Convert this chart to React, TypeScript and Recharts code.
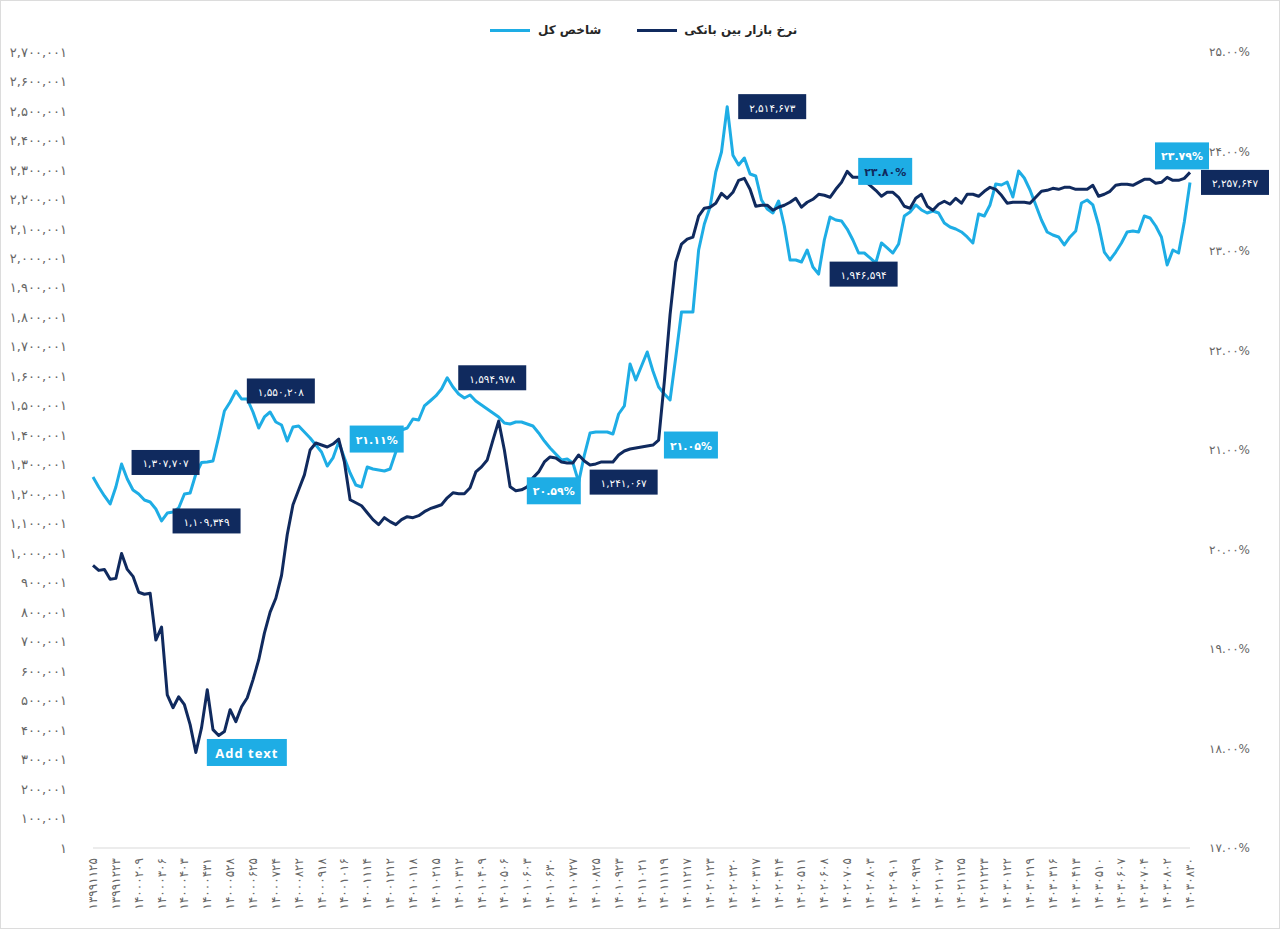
import React from 'react';
import { LineChart, Line, XAxis, YAxis, LabelList } from 'recharts';

const NAVY = '#102a5e';
const SKY = '#1eade5';
const FONT = '"DejaVu Sans", sans-serif';

// x-axis dates, one every 4th weekly point
const dateTicks = [
  '۱۳۹۹۱۱۲۵', '۱۳۹۹۱۲۲۳', '۱۴۰۰۰۲۰۹', '۱۴۰۰۰۳۰۶', '۱۴۰۰۰۴۰۳', '۱۴۰۰۰۴۳۱', '۱۴۰۰۰۵۲۸',
  '۱۴۰۰۰۶۲۵', '۱۴۰۰۰۷۲۴', '۱۴۰۰۰۸۲۲', '۱۴۰۰۰۹۱۸', '۱۴۰۰۱۰۱۶', '۱۴۰۰۱۱۱۴', '۱۴۰۰۱۲۱۲',
  '۱۴۰۱۰۱۱۸', '۱۴۰۱۰۲۱۵', '۱۴۰۱۰۳۱۲', '۱۴۰۱۰۴۰۹', '۱۴۰۱۰۵۰۶', '۱۴۰۱۰۶۰۳', '۱۴۰۱۰۶۳۰',
  '۱۴۰۱۰۷۲۷', '۱۴۰۱۰۸۲۵', '۱۴۰۱۰۹۲۳', '۱۴۰۱۱۰۲۱', '۱۴۰۱۱۱۱۹', '۱۴۰۱۱۲۱۷', '۱۴۰۲۰۱۲۳',
  '۱۴۰۲۰۲۲۰', '۱۴۰۲۰۳۱۷', '۱۴۰۲۰۴۱۴', '۱۴۰۲۰۵۱۱', '۱۴۰۲۰۶۰۸', '۱۴۰۲۰۷۰۵', '۱۴۰۲۰۸۰۳',
  '۱۴۰۲۰۹۰۱', '۱۴۰۲۰۹۲۹', '۱۴۰۲۱۰۲۷', '۱۴۰۲۱۱۲۵', '۱۴۰۲۱۲۲۳', '۱۴۰۳۰۱۲۲', '۱۴۰۳۰۲۱۹',
  '۱۴۰۳۰۳۱۶', '۱۴۰۳۰۴۱۳', '۱۴۰۳۰۵۱۰', '۱۴۰۳۰۶۰۷', '۱۴۰۳۰۷۰۴', '۱۴۰۳۰۸۰۲', '۱۴۰۳۰۸۳۰',
];

const leftTicks = [
  1, 100001, 200001, 300001, 400001, 500001, 600001, 700001, 800001, 900001,
  1000001, 1100001, 1200001, 1300001, 1400001, 1500001, 1600001, 1700001, 1800001,
  1900001, 2000001, 2100001, 2200001, 2300001, 2400001, 2500001, 2600001, 2700001,
];
const rightTicks = [17, 18, 19, 20, 21, 22, 23, 24, 25];

// شاخص کل (weekly)
const indexValues = [
  1258000, 1224500, 1194000, 1167000, 1224500, 1302500, 1251600, 1214300,
  1200800, 1180400, 1173600, 1149900, 1109349, 1136300, 1139700, 1153300,
  1200800, 1204200, 1268600, 1307707, 1309300, 1312700, 1394100, 1482300,
  1512800, 1550208, 1523000, 1523000, 1478900, 1424600, 1462000, 1478900,
  1445000, 1434800, 1380500, 1428000, 1431400, 1411100, 1390700, 1367000,
  1343200, 1295700, 1322900, 1377200, 1322900, 1272000, 1231300, 1224500,
  1292400, 1285600, 1282200, 1278800, 1285600, 1343200, 1417900, 1424600,
  1455200, 1451800, 1499300, 1516200, 1533200, 1556900, 1594978, 1563700,
  1540000, 1526400, 1536600, 1516200, 1502700, 1489100, 1475500, 1462000,
  1441600, 1438200, 1445000, 1445000, 1438200, 1431400, 1407700, 1380500,
  1356800, 1336400, 1316100, 1319500, 1305900, 1241067, 1333000, 1407700,
  1411100, 1411100, 1411100, 1404300, 1472100, 1499300, 1641700, 1587500,
  1634900, 1682400, 1618000, 1563700, 1540000, 1519600, 1665500, 1818100,
  1818100, 1818100, 2028400, 2116600, 2174300, 2293000, 2360800, 2514673,
  2350000, 2316700, 2340500, 2286200, 2279400, 2198000, 2167500, 2153900,
  2194600, 2109800, 1994500, 1994500, 1987700, 2028400, 1970800, 1946594,
  2062300, 2140400, 2130200, 2126800, 2099600, 2062300, 2018200, 2018200,
  2001300, 1984300, 2052200, 2035200, 2018200, 2048800, 2143700, 2157300,
  2181100, 2164100, 2153900, 2160700, 2153900, 2120000, 2106400, 2099600,
  2089500, 2072500, 2052200, 2150500, 2143700, 2181100, 2252300, 2248900,
  2259100, 2208200, 2296400, 2272600, 2231900, 2181100, 2130200, 2089500,
  2079300, 2072500, 2045400, 2072500, 2092900, 2187800, 2198000, 2181100,
  2113200, 2021600, 1994500, 2021600, 2052200, 2089500, 2092900, 2089500,
  2143700, 2137000, 2109800, 2072500, 1977500, 2028400, 2018200, 2123400,
  2257647,
];

// نرخ بازار بین بانکی (%)
const rateValues = [
  19.84, 19.79, 19.80, 19.70, 19.71, 19.96, 19.80, 19.73,
  19.57, 19.55, 19.56, 19.09, 19.22, 18.54, 18.41, 18.52,
  18.44, 18.24, 17.96, 18.21, 18.59, 18.19, 18.13, 18.17,
  18.39, 18.27, 18.42, 18.51, 18.69, 18.89, 19.16, 19.37,
  19.51, 19.74, 20.15, 20.45, 20.60, 20.75, 21.00, 21.07,
  21.05, 21.03, 21.06, 21.11, 20.88, 20.50, 20.47, 20.44,
  20.37, 20.30, 20.25, 20.32, 20.28, 20.25, 20.30, 20.33,
  20.32, 20.34, 20.38, 20.41, 20.43, 20.45, 20.52, 20.57,
  20.56, 20.56, 20.62, 20.78, 20.83, 20.90, 21.10, 21.29,
  21.00, 20.63, 20.59, 20.60, 20.63, 20.72, 20.78, 20.88,
  20.93, 20.92, 20.88, 20.87, 20.87, 20.95, 20.89, 20.85,
  20.86, 20.88, 20.88, 20.88, 20.95, 20.99, 21.01, 21.02,
  21.03, 21.04, 21.05, 21.10, 21.69, 22.36, 22.89, 23.07,
  23.12, 23.14, 23.35, 23.43, 23.44, 23.48, 23.58, 23.53,
  23.59, 23.71, 23.73, 23.62, 23.45, 23.46, 23.46, 23.41,
  23.44, 23.46, 23.49, 23.53, 23.44, 23.49, 23.52, 23.57,
  23.56, 23.54, 23.62, 23.69, 23.80, 23.74, 23.74, 23.71,
  23.66, 23.61, 23.55, 23.59, 23.59, 23.54, 23.45, 23.43,
  23.53, 23.57, 23.45, 23.41, 23.47, 23.50, 23.47, 23.53,
  23.48, 23.57, 23.57, 23.55, 23.60, 23.64, 23.62, 23.56,
  23.48, 23.49, 23.49, 23.49, 23.48, 23.54, 23.60, 23.61,
  23.63, 23.62, 23.64, 23.64, 23.62, 23.62, 23.62, 23.66,
  23.55, 23.57, 23.60, 23.66, 23.67, 23.67, 23.66, 23.69,
  23.72, 23.72, 23.68, 23.69, 23.74, 23.71, 23.71, 23.73,
  23.79,
];

// which points carry a value box
const indexCallouts = [
  { i: 12, place: 'right' }, { i: 19, place: 'left' }, { i: 25, place: 'right' },
  { i: 62, place: 'right' }, { i: 85, place: 'right' }, { i: 111, place: 'right' },
  { i: 127, place: 'right' }, { i: 192, place: 'right' },
];
const rateCallouts = [
  { i: 43, place: 'right' }, { i: 74, place: 'right' }, { i: 98, place: 'right' },
  { i: 132, place: 'right', dark: true }, { i: 192, place: 'above' },
];
const placeholderCallout = { i: 18, text: 'Add text' };

const fa = (s: string) => s.replace(/\d/g, (d) => '۰۱۲۳۴۵۶۷۸۹'[+d]);

const data = indexValues.map((v, i) => ({ i, index: v, rate: rateValues[i] }));
const xTicks = dateTicks.map((_, k) => k * 4);

const DateTick = (props: any) => {
  const { x, y, payload } = props;
  const label = dateTicks[Math.round(payload.value / 4)];
  return (
    <text x={x} y={y} transform={`rotate(-90 ${x} ${y})`} textAnchor="end" dominantBaseline="central"
      fontSize={12} fill="#666" fontFamily={FONT}>
      {label}
    </text>
  );
};

const Box = ({ x, y, w, h, place, fill, color, text, size, bold, family, spacing }: any) => {
  let bx = x + 11;
  let by = y - h / 2;
  if (place === 'left') bx = x - w - 2;
  if (place === 'above') { bx = x - w + 19; by = y - h - 3; }
  return (
    <g>
      <rect x={bx} y={by} width={w} height={h} fill={fill} />
      <text x={bx + w / 2} y={by + h / 2 + 1} textAnchor="middle" dominantBaseline="central"
        fill={color} fontSize={size} fontWeight={bold ? 700 : 400} fontFamily={family || FONT}
        letterSpacing={spacing || 0}>
        {text}
      </text>
    </g>
  );
};

const pointOf = (props: any) => {
  const vb = props.viewBox || {};
  return { x: vb.x ?? props.x, y: vb.y ?? props.y, i: props.value };
};

const IndexLabel = (props: any) => {
  const { x, y, i } = pointOf(props);
  const c = indexCallouts.find((d) => d.i === i);
  if (!c || x == null) return null;
  return (
    <Box x={x} y={y} w={68} h={25} place={c.place} fill={NAVY} color="#fff" size={10.5}
      text={fa(indexValues[i].toLocaleString('en-US'))} />
  );
};

const RateLabel = (props: any) => {
  const { x, y, i } = pointOf(props);
  if (x == null) return null;
  if (i === placeholderCallout.i) {
    return (
      <Box x={x} y={y} w={80} h={27} place="right" fill={SKY} color="#fff" size={13} bold
        family='"Open Sans", sans-serif' spacing={1} text={placeholderCallout.text} />
    );
  }
  const c: any = rateCallouts.find((d) => d.i === i);
  if (!c) return null;
  return (
    <Box x={x} y={y} w={54} h={27} place={c.place} fill={SKY} color={c.dark ? NAVY : '#fff'} size={11} bold
      text={fa(rateValues[i].toFixed(2)) + '%'} />
  );
};

const tickStyle = { fontSize: 13, fill: '#666', fontFamily: FONT };

export default function App() {
  return (
    <div style={{ position: 'absolute', left: 0, top: 0, width: 1280, height: 929, background: '#fff', overflow: 'hidden' }}>
      <LineChart width={1280} height={929} data={data} margin={{ top: 52, right: 0, bottom: 0, left: 0 }}>
        <XAxis dataKey="i" type="number" domain={[0, 192]} ticks={xTicks} interval={0} height={81}
          tickSize={0} tickMargin={10} tickLine={false} axisLine={{ stroke: '#d9d9d9' }} tick={<DateTick />} />
        <YAxis yAxisId="left" orientation="left" domain={[1, 2700001]} ticks={leftTicks} interval={0}
          width={93} tickSize={0} tickMargin={26} axisLine={false} tickLine={false} tick={tickStyle}
          tickFormatter={(v: number) => fa(v.toLocaleString('en-US'))} />
        <YAxis yAxisId="right" orientation="right" domain={[17, 25]} ticks={rightTicks} interval={0}
          width={90} tickSize={0} tickMargin={19} axisLine={false} tickLine={false} tick={{ ...tickStyle, fontSize: 12 }}
          tickFormatter={(v: number) => fa(v.toFixed(2)) + '%'} />
        <Line yAxisId="left" type="linear" dataKey="index" stroke={SKY} strokeWidth={3} dot={false}
          isAnimationActive={false} strokeLinejoin="round">
          <LabelList dataKey="i" content={<IndexLabel />} />
        </Line>
        <Line yAxisId="right" type="linear" dataKey="rate" stroke={NAVY} strokeWidth={3} dot={false}
          isAnimationActive={false} strokeLinejoin="round">
          <LabelList dataKey="i" content={<RateLabel />} />
        </Line>
      </LineChart>

      <div style={{ position: 'absolute', top: 20, left: 490, height: 20, display: 'flex', alignItems: 'center',
        fontFamily: FONT, fontWeight: 700, fontSize: 12, color: '#262626' }}>
        <span style={{ width: 40, height: 3, background: SKY, display: 'inline-block' }} />
        <span dir="rtl" style={{ marginLeft: 8 }}>شاخص کل</span>
        <span style={{ width: 40, height: 3, background: NAVY, display: 'inline-block', marginLeft: 36 }} />
        <span dir="rtl" style={{ marginLeft: 7 }}>نرخ بازار بین بانکی</span>
      </div>

      <div style={{ position: 'absolute', inset: 0, border: '1px solid #dcdcdc', pointerEvents: 'none' }} />
    </div>
  );
}
